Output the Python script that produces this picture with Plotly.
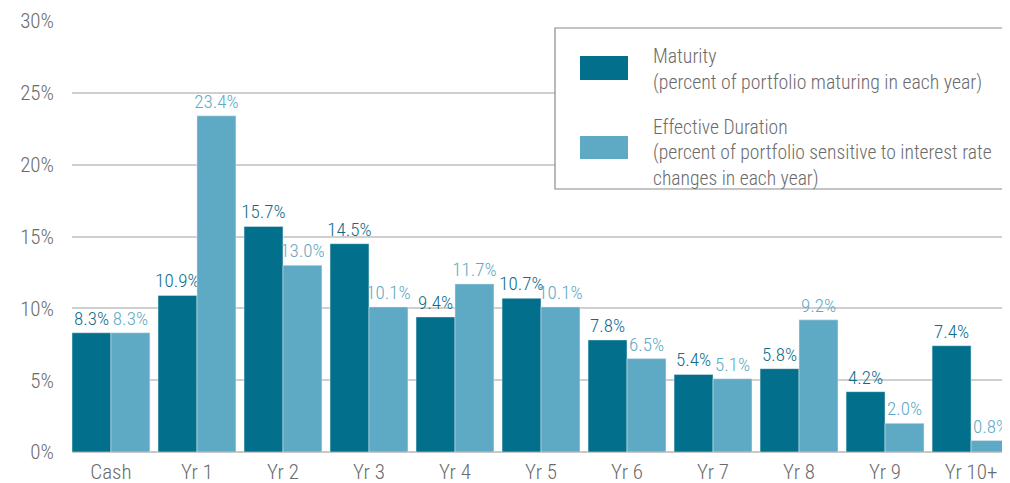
import plotly.graph_objects as go

categories = ["Cash", "Yr 1", "Yr 2", "Yr 3", "Yr 4", "Yr 5", "Yr 6", "Yr 7", "Yr 8", "Yr 9", "Yr 10+"]
maturity = [8.3, 10.9, 15.7, 14.5, 9.4, 10.7, 7.8, 5.4, 5.8, 4.2, 7.4]
duration = [8.3, 23.4, 13.0, 10.1, 11.7, 10.1, 6.5, 5.1, 9.2, 2.0, 0.8]
y_ticks = [0, 5, 10, 15, 20, 25, 30]

DARK = "#02708C"
LIGHT = "#5EAAC4"
GRAY = "#6B6B6B"
FONT = "Roboto Condensed, Liberation Sans Narrow, Arial Narrow, Roboto, sans-serif"
W = 300

fig = go.Figure()
fig.add_trace(go.Bar(
    x=categories, y=maturity, name="Maturity", marker_color=DARK,
    text=[f"{v:.1f}%" for v in maturity], textposition="outside", cliponaxis=False,
    constraintext="none",
    textfont=dict(color="#0F6C8A", size=19, family=FONT, weight=W),
))
fig.add_trace(go.Bar(
    x=categories, y=duration, name="Effective Duration", marker_color=LIGHT,
    text=[f"{v:.1f}%" for v in duration], textposition="outside", cliponaxis=False,
    constraintext="none",
    textfont=dict(color=LIGHT, size=19, family=FONT, weight=W),
))

g = 0.094
# page has an 8px body margin: figure placed at (8, 8)
fig.update_layout(
    width=1002, height=475,
    margin=dict(l=64, r=0, t=13, b=31),
    barmode="group", bargap=g, bargroupgap=0,
    plot_bgcolor="white", paper_bgcolor="white",
    showlegend=False,
    font=dict(family=FONT, color=GRAY, size=18, weight=W),
    xaxis=dict(
        range=[-0.5 + g / 2, len(categories) - 0.5 - g / 2],
        showgrid=False, showline=False, ticks="", ticklabelstandoff=5,
        automargin=False,
        tickfont=dict(size=21, color=GRAY, family=FONT, weight=W),
    ),
    yaxis=dict(
        range=[0, 30], tickvals=y_ticks, ticktext=[f"{t}%" for t in y_ticks],
        showgrid=True, gridcolor="#CFCFCF", gridwidth=1.5,
        zeroline=True, zerolinecolor="#C8C8C8", zerolinewidth=2,
        showline=False, ticks="", ticklabelstandoff=17, automargin=False,
        tickfont=dict(size=21, color=GRAY, family=FONT, weight=W),
    ),
)

# helper: page-pixel -> paper coords (plot area spans x 72..1010, y 21..452 on page)
def px_x(px):
    return (px - 72) / 938.0

def px_y(py):
    return (452 - py) / 431.0

fig.add_shape(type="rect", xref="paper", yref="paper",
              x0=px_x(555), x1=px_x(1012), y0=px_y(189), y1=px_y(28),
              line=dict(color="#8A8A8A", width=1.2), fillcolor="white", layer="above")
fig.add_shape(type="rect", xref="paper", yref="paper",
              x0=px_x(580), x1=px_x(628), y0=px_y(80), y1=px_y(56),
              line=dict(width=0), fillcolor=DARK, layer="above")
fig.add_shape(type="rect", xref="paper", yref="paper",
              x0=px_x(580), x1=px_x(628), y0=px_y(159), y1=px_y(136),
              line=dict(width=0), fillcolor=LIGHT, layer="above")
fig.add_annotation(xref="paper", yref="paper", x=px_x(651), y=px_y(69),
                   xanchor="left", yanchor="middle", align="left", showarrow=False,
                   text="Maturity<br>(percent of portfolio maturing in each year)",
                   font=dict(size=19.8, color=GRAY, family=FONT, weight=W))
fig.add_annotation(xref="paper", yref="paper", x=px_x(651), y=px_y(153),
                   xanchor="left", yanchor="middle", align="left", showarrow=False,
                   text="Effective Duration<br>(percent of portfolio sensitive to interest rate<br>changes in each year)",
                   font=dict(size=19.6, color=GRAY, family=FONT, weight=W))

fig.write_html("out.html")
